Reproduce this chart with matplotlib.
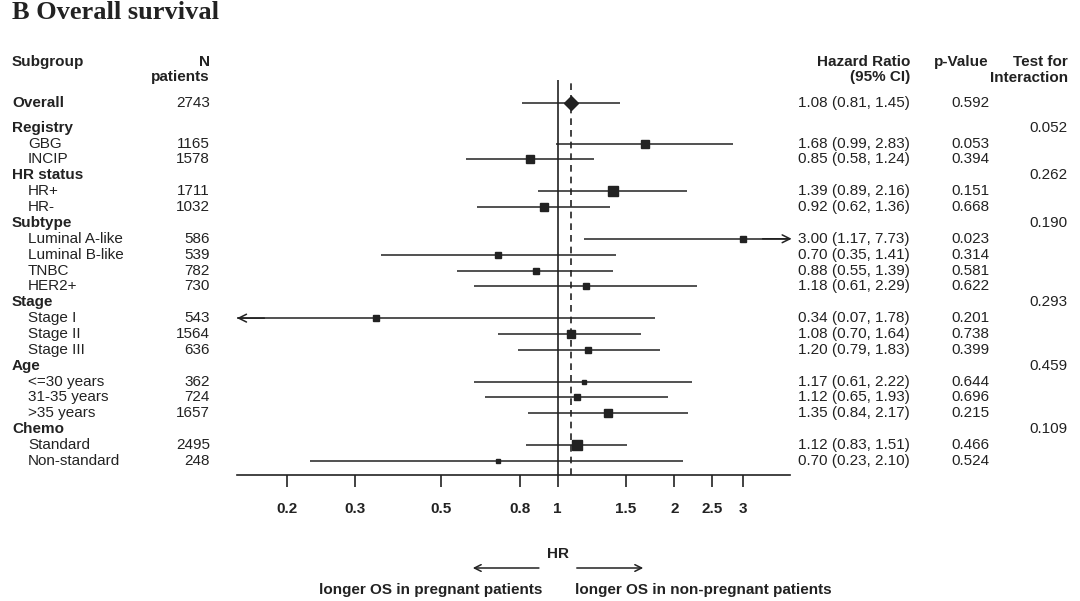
import matplotlib
matplotlib.use('Agg')
import matplotlib.pyplot as plt
import matplotlib.transforms as mtransforms
import numpy as np

plt.rcParams['font.family'] = ['Liberation Sans', 'DejaVu Sans']

# dados do forest plot
rotulos = ['Overall', 'Registry', 'GBG', 'INCIP', 'HR status', 'HR+', 'HR-',
           'Subtype', 'Luminal A-like', 'Luminal B-like', 'TNBC', 'HER2+',
           'Stage', 'Stage I', 'Stage II', 'Stage III',
           'Age', '<=30 years', '31-35 years', '>35 years',
           'Chemo', 'Standard', 'Non-standard']
cabecalho = [True, True, False, False, True, False, False,
             True, False, False, False, False,
             True, False, False, False,
             True, False, False, False,
             True, False, False]
n_pacientes = [2743, None, 1165, 1578, None, 1711, 1032,
               None, 586, 539, 782, 730,
               None, 543, 1564, 636,
               None, 362, 724, 1657,
               None, 2495, 248]
hr = [1.08, None, 1.68, 0.85, None, 1.39, 0.92,
      None, 3.00, 0.70, 0.88, 1.18,
      None, 0.34, 1.08, 1.20,
      None, 1.17, 1.12, 1.35,
      None, 1.12, 0.70]
ic_inf = [0.81, None, 0.99, 0.58, None, 0.89, 0.62,
          None, 1.17, 0.35, 0.55, 0.61,
          None, 0.07, 0.70, 0.79,
          None, 0.61, 0.65, 0.84,
          None, 0.83, 0.23]
ic_sup = [1.45, None, 2.83, 1.24, None, 2.16, 1.36,
          None, 7.73, 1.41, 1.39, 2.29,
          None, 1.78, 1.64, 1.83,
          None, 2.22, 1.93, 2.17,
          None, 1.51, 2.10]
p_valor = ['0.592', '', '0.053', '0.394', '', '0.151', '0.668',
           '', '0.023', '0.314', '0.581', '0.622',
           '', '0.201', '0.738', '0.399',
           '', '0.644', '0.696', '0.215',
           '', '0.466', '0.524']
interacao = ['', '0.052', '', '', '0.262', '', '',
             '0.190', '', '', '', '',
             '0.293', '', '', '',
             '0.459', '', '', '',
             '0.109', '', '']
ticks_hr = [0.2, 0.3, 0.5, 0.8, 1, 1.5, 2, 2.5, 3]

W, H = 1080, 601
fig = plt.figure(figsize=(W / 100, H / 100), dpi=100)

# eixo do forest plot (em pixels da figura)
x0, x1, ytop, ybot = 237, 790, 80, 475
ax = fig.add_axes([x0 / W, 1 - ybot / H, (x1 - x0) / W, (ybot - ytop) / H])

# posicao das linhas: Overall separado dos outros
passo = 15.87
y_linhas = np.array([0] + [1.556 + k for k in range(len(rotulos) - 1)])
ax.set_xscale('log')
xmin, xmax = 0.149, 3.97
ax.set_xlim(xmin, xmax)
ax.set_ylim((ybot - 103) / passo, (ytop - 103) / passo)

cor = '#222222'
ax.axvline(1, color=cor, lw=1.2, zorder=1)
ax.axvline(hr[0], color=cor, lw=1.2, ls=(0, (4, 3)), zorder=1)

for i, y in enumerate(y_linhas):
    if hr[i] is None:
        continue
    lo, hi = ic_inf[i], ic_sup[i]
    a = max(lo, xmin)
    b = min(hi, xmax)
    ax.plot([a, b], [y, y], color=cor, lw=1.1, solid_capstyle='butt', zorder=2)
    if hi > xmax:
        ax.annotate('', xy=(xmax * 1.01, y), xytext=(xmax * 0.85, y),
                    arrowprops=dict(arrowstyle='->', color=cor, lw=1.1,
                                    mutation_scale=14, shrinkA=0, shrinkB=0),
                    annotation_clip=False)
    if lo < xmin:
        ax.annotate('', xy=(xmin, y), xytext=(xmin / 0.85, y),
                    arrowprops=dict(arrowstyle='->', color=cor, lw=1.1,
                                    mutation_scale=14, shrinkA=0, shrinkB=0),
                    annotation_clip=False)
    if i == 0:
        ax.plot(hr[i], y, marker='D', ms=7, color=cor, zorder=3)
    else:
        lado = 0.22 * np.sqrt(n_pacientes[i]) * 0.72
        ax.plot(hr[i], y, marker='s', ms=lado, color=cor, mec=cor, zorder=3)

for s in ['top', 'left', 'right']:
    ax.spines[s].set_visible(False)
ax.spines['bottom'].set_linewidth(1.2)
ax.spines['bottom'].set_color(cor)
ax.set_yticks([])
ax.minorticks_off()
ax.set_xticks(ticks_hr)
ax.set_xticklabels([f'{t:g}' for t in ticks_hr], fontsize=11, fontweight='bold', color=cor)
ax.tick_params(axis='x', which='major', length=8.4, width=1.2, color=cor, pad=11)
ax.tick_params(axis='x', which='minor', length=0)

# textos das colunas
tr = mtransforms.blended_transform_factory(fig.transFigure, ax.transData)
fs = 11
y_h1, y_h2 = (62 - 103) / passo, (77.5 - 103) / passo

def texto(xpx, y, s, ha='left', bold=False):
    ax.text(xpx / W, y, s, transform=tr, ha=ha, va='center', fontsize=fs,
            fontweight='bold' if bold else 'normal', color=cor, clip_on=False)

texto(12, y_h1, 'Subgroup', bold=True)
texto(210, y_h1, 'N', ha='right', bold=True)
texto(210, y_h2, 'patients', ha='right', bold=True)
texto(910, y_h1, 'Hazard Ratio', ha='right', bold=True)
texto(910, y_h2, '(95% CI)', ha='right', bold=True)
texto(989, y_h1, 'p-Value', ha='right', bold=True)
texto(1068, y_h1, 'Test for', ha='right', bold=True)
texto(1068, y_h2, 'Interaction', ha='right', bold=True)

for i, y in enumerate(y_linhas):
    if cabecalho[i]:
        texto(12, y, rotulos[i], bold=True)
    else:
        texto(28, y, rotulos[i])
    if n_pacientes[i] is not None:
        texto(210, y, str(n_pacientes[i]), ha='right')
    if hr[i] is not None:
        texto(910, y, f'{hr[i]:.2f} ({ic_inf[i]:.2f}, {ic_sup[i]:.2f})', ha='right')
    if p_valor[i]:
        texto(989, y, p_valor[i], ha='right')
    if interacao[i]:
        texto(1068, y, interacao[i], ha='right')

# titulo
fig.text(12 / W, 1 - 19 / H, 'B Overall survival', family='Liberation Serif',
         fontsize=19, fontweight='bold', ha='left', va='baseline', color=cor)

# legenda inferior
fig.text(557.7 / W, 1 - 554 / H, 'HR', fontsize=fs, fontweight='bold',
         ha='center', va='center', color=cor)
ya = 1 - 568 / H
fig.add_artist(matplotlib.patches.FancyArrowPatch((541.7 / W, ya), (470 / W, ya),
               transform=fig.transFigure, arrowstyle='->', mutation_scale=12,
               color=cor, lw=1.1))
fig.add_artist(matplotlib.patches.FancyArrowPatch((574 / W, ya), (646 / W, ya),
               transform=fig.transFigure, arrowstyle='->', mutation_scale=12,
               color=cor, lw=1.1))
yb = 1 - 590 / H
fig.text(542 / W, yb, 'longer OS in pregnant patients', fontsize=fs,
         fontweight='bold', ha='right', va='center', color=cor)
fig.text(575 / W, yb, 'longer OS in non-pregnant patients', fontsize=fs,
         fontweight='bold', ha='left', va='center', color=cor)

fig.savefig('out.png', dpi=100)
